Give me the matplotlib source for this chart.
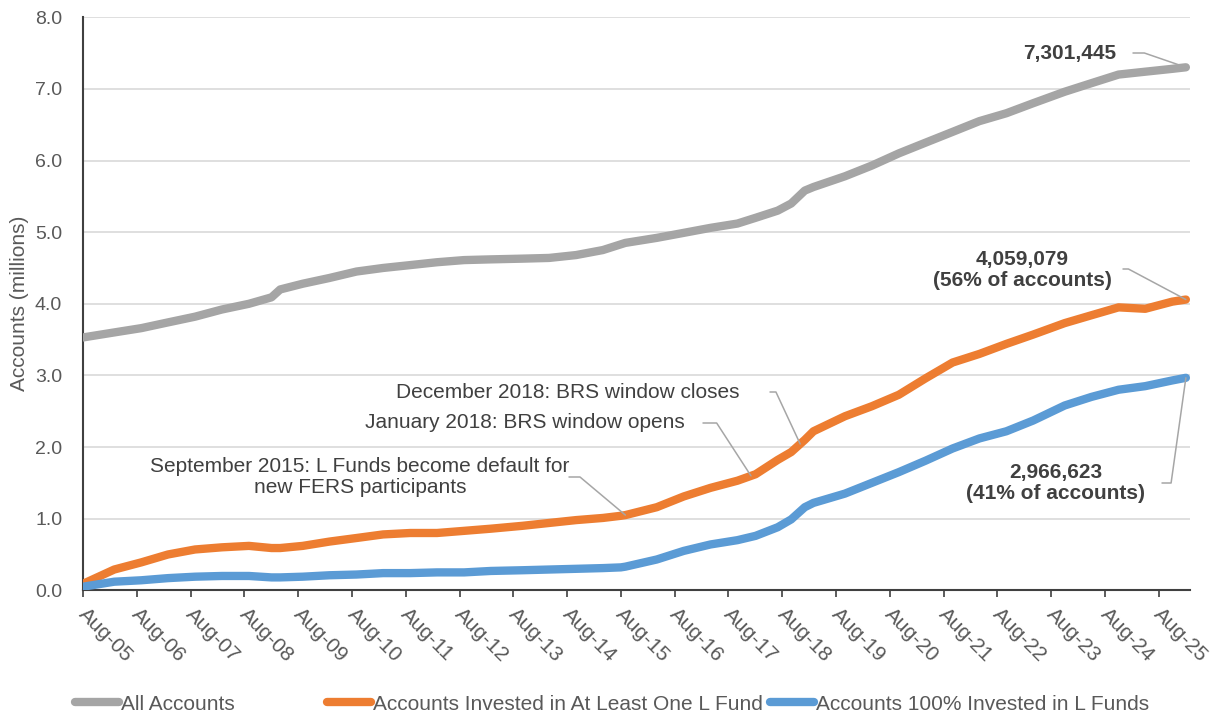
import numpy as np
import pandas as pd
import matplotlib
matplotlib.use('Agg')
import matplotlib.pyplot as plt
import matplotlib.dates as mdates
import matplotlib.transforms as mtransforms

plt.rcParams['font.family'] = ['Liberation Sans', 'DejaVu Sans']

# month of each reading
months = ['2005-08', '2006-03', '2006-09', '2007-03', '2007-09', '2008-03', '2008-09',
          '2009-02', '2009-04', '2009-09', '2010-03', '2010-09', '2011-03', '2011-09',
          '2012-03', '2012-09', '2013-03', '2013-10', '2014-04', '2014-10', '2015-04',
          '2015-08', '2015-09', '2016-04', '2016-10', '2017-04', '2017-10', '2018-02',
          '2018-07', '2018-10', '2019-01', '2019-03', '2019-10', '2020-04', '2020-10',
          '2021-04', '2021-10', '2022-04', '2022-10', '2023-04', '2023-11', '2024-05',
          '2024-11', '2025-05', '2025-11', '2026-02']

# accounts, millions
all_accounts = [3.53, 3.60, 3.66, 3.74, 3.82, 3.92, 4.00, 4.09, 4.20, 4.28, 4.36, 4.45,
                4.50, 4.54, 4.58, 4.61, 4.62, 4.63, 4.64, 4.68, 4.75, 4.83, 4.85, 4.92,
                4.99, 5.06, 5.12, 5.20, 5.30, 5.40, 5.58, 5.63, 5.78, 5.93, 6.10, 6.25,
                6.40, 6.55, 6.66, 6.80, 6.96, 7.08, 7.20, 7.24, 7.28, 7.301445]
one_l_fund = [0.09, 0.29, 0.39, 0.50, 0.57, 0.60, 0.62, 0.59, 0.59, 0.62, 0.68, 0.73,
              0.78, 0.80, 0.80, 0.83, 0.86, 0.90, 0.94, 0.98, 1.01, 1.04, 1.05, 1.16,
              1.31, 1.43, 1.53, 1.62, 1.82, 1.93, 2.10, 2.22, 2.43, 2.57, 2.73, 2.96,
              3.18, 3.30, 3.44, 3.57, 3.73, 3.84, 3.95, 3.93, 4.03, 4.059079]
all_l_funds = [0.05, 0.12, 0.14, 0.17, 0.19, 0.20, 0.20, 0.18, 0.18, 0.19, 0.21, 0.22,
               0.24, 0.24, 0.25, 0.25, 0.27, 0.28, 0.29, 0.30, 0.31, 0.32, 0.33, 0.43,
               0.55, 0.64, 0.70, 0.76, 0.88, 0.99, 1.16, 1.22, 1.35, 1.50, 1.65, 1.81,
               1.98, 2.12, 2.22, 2.37, 2.58, 2.70, 2.80, 2.85, 2.93, 2.966623]

labels = ['All Accounts', 'Accounts Invested in At Least One L Fund',
          'Accounts 100% Invested in L Funds']
colors = ['#A5A5A5', '#ED7D31', '#5B9BD5']

dates = pd.to_datetime(months)
txt = '#404040'

fig = plt.figure(figsize=(12.25, 7.19), dpi=100)
ax = fig.add_axes([83 / 1225, 0.179, 1107 / 1225, 0.797])

lines = []
for vals, lab, col in zip([all_accounts, one_l_fund, all_l_funds], labels, colors):
    ln, = ax.plot(dates, vals, color=col, lw=6, solid_capstyle='round',
                  solid_joinstyle='round', label=lab, zorder=3)
    lines.append(ln)

ax.set_xlim(pd.Timestamp('2005-08-01'), pd.Timestamp('2026-03-01'))
ax.set_ylim(0, 8)
ax.set_yticks(np.arange(0, 8.1, 1.0))
ax.yaxis.set_major_formatter(matplotlib.ticker.FormatStrFormatter('%.1f'))
ax.xaxis.set_major_locator(mdates.MonthLocator(bymonth=8, bymonthday=1))
ax.xaxis.set_major_formatter(mdates.DateFormatter('%b-%y'))
ax.grid(axis='y', color='#d9d9d9', lw=1.2, zorder=0)
ax.set_axisbelow(True)
for s in ['top', 'right']:
    ax.spines[s].set_visible(False)
for s in ['left', 'bottom']:
    ax.spines[s].set_color(txt)
    ax.spines[s].set_linewidth(1.5)
ax.tick_params(axis='y', length=0, pad=15, labelsize=14, labelcolor='#595959')
ax.tick_params(axis='x', length=5, width=1.2, color=txt, direction='out', pad=5,
               labelsize=15, labelcolor='#595959')
shift = mtransforms.ScaledTranslation(5 / 100, 0, fig.dpi_scale_trans)
for lab in ax.get_xticklabels():
    lab.set_rotation(-45)
    lab.set_ha('left')
    lab.set_va('top')
    lab.set_rotation_mode('anchor')
    lab.set_transform(lab.get_transform() + shift)
ax.set_ylabel('Accounts (millions)', fontsize=15, color='#595959', labelpad=4)


def px(x, y):
    # position given in pixels from the top-left corner of the figure
    return (x, 719 - y)


dnum = mdates.date2num(dates)


def at(series, when):
    d = mdates.date2num(pd.Timestamp(when))
    return (d, np.interp(d, dnum, series))


lead = dict(arrowstyle='-', color='#a6a6a6', lw=1.1, shrinkA=0, shrinkB=0)


def leader(start, target, angle):
    props = dict(lead, connectionstyle=f'angle,angleA=0,angleB={angle},rad=0')
    ax.annotate('', xy=target, xycoords='data', xytext=px(*start),
                textcoords='figure pixels', arrowprops=props, zorder=4)


# final values
end = dates[-1]
fig.text(1070 / 1225, 1 - 53 / 719, '7,301,445', fontsize=15, fontweight='bold',
         color=txt, ha='center', va='center')
leader((1133, 53), at(all_accounts, end), -19)
fig.text(1022 / 1225, 1 - 270 / 719, '4,059,079\n(56% of accounts)', fontsize=15,
         fontweight='bold', color=txt, ha='center', va='center', linespacing=1.15)
leader((1123, 269), at(one_l_fund, end), -28)
fig.text(1056 / 1225, 1 - 483 / 719, '2,966,623\n(41% of accounts)', fontsize=15,
         fontweight='bold', color=txt, ha='center', va='center', linespacing=1.15)
leader((1162, 483), at(all_l_funds, end), 82)

# events
fig.text(568 / 1225, 1 - 393 / 719, 'December 2018: BRS window closes', fontsize=15,
         color=txt, ha='center', va='center')
leader((770, 392), at(one_l_fund, '2018-12-01'), -65)
fig.text(525 / 1225, 1 - 423 / 719, 'January 2018: BRS window opens', fontsize=15,
         color=txt, ha='center', va='center')
leader((703, 423), at(one_l_fund, '2018-01-01'), -57)
fig.text(360 / 1225, 1 - 477 / 719,
         'September 2015: L Funds become default for\nnew FERS participants',
         fontsize=15, color=txt, ha='center', va='center', linespacing=1.15)
leader((569, 477), at(one_l_fund, '2015-09-01'), -40)

# legend, one entry each so the spacing follows the original
for ln, xl in zip(lines, [75, 327, 770]):
    fig.legend(handles=[ln], loc='center left', bbox_to_anchor=(xl / 1225, 1 - 704 / 719),
               frameon=False, fontsize=15, handlelength=2.1, handletextpad=0.1,
               borderpad=0, borderaxespad=0, labelcolor='#595959')

fig.savefig('out.png', dpi=100)
